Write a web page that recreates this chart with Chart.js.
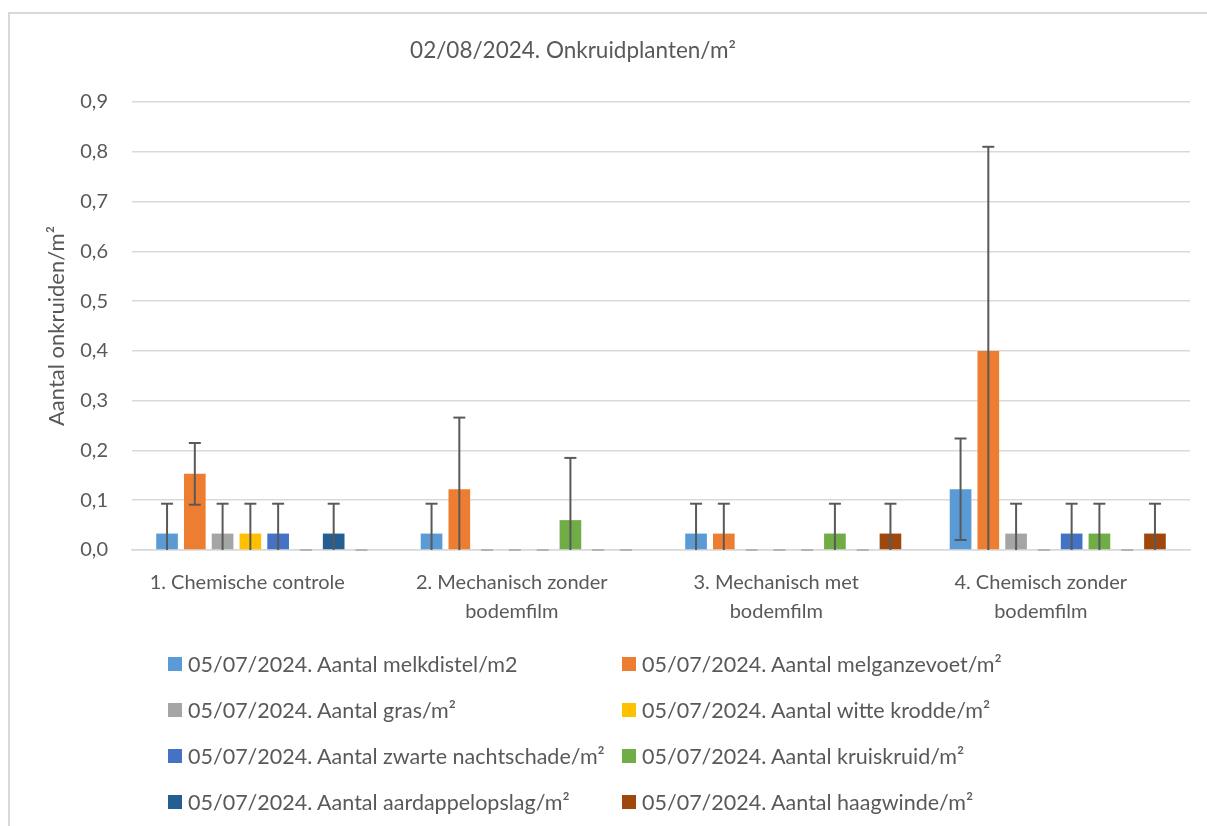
<!DOCTYPE html>
<html>
<head>
<meta charset="utf-8">
<script src="https://cdn.jsdelivr.net/npm/chart.js@4/dist/chart.umd.min.js"></script>
<style>
  html, body { margin:0; padding:0; background:#fff; width:1207px; height:826px; overflow:hidden; }
  #frame { position:absolute; left:8px; top:12px; width:1220px; height:840px; border:2px solid #d9d9d9; box-sizing:border-box; }
  #wrap { position:absolute; left:0; top:0; width:1207px; height:826px; }
  #title { position:absolute; left:273px; width:600px; top:36px; height:28px; line-height:28px; text-align:center;
           font-family: Lato, "Open Sans", sans-serif; font-size:22.5px; color:#595959; white-space:nowrap; }
  #legend { position:absolute; left:0; top:0; width:1207px; height:826px; pointer-events:none;
            font-family: Lato, "Open Sans", sans-serif; font-size:21.5px; color:#595959; }
  .li { position:absolute; white-space:nowrap; display:flex; align-items:center; height:26px; }
  .sw { width:14px; height:14px; margin-right:6px; display:inline-block; }
</style>
</head>
<body>
<div id="frame"></div>
<div id="wrap"><canvas id="c" width="1207" height="826"></canvas></div>
<div id="title"></div>
<div id="legend"></div>
<script>
// ---- data ----
const chartTitle = '02/08/2024. Onkruidplanten/m²';
const yAxisTitle = 'Aantal onkruiden/m²';
const categories = [
  '1. Chemische controle',
  ['2. Mechanisch zonder', 'bodemfilm'],
  ['3. Mechanisch met', 'bodemfilm'],
  ['4. Chemisch zonder', 'bodemfilm']
];
const seriesNames = [
  '05/07/2024. Aantal melkdistel/m2',
  '05/07/2024. Aantal melganzevoet/m²',
  '05/07/2024. Aantal gras/m²',
  '05/07/2024. Aantal witte krodde/m²',
  '05/07/2024. Aantal zwarte nachtschade/m²',
  '05/07/2024. Aantal kruiskruid/m²',
  '05/07/2024. Aantal aardappelopslag/m²',
  '05/07/2024. Aantal haagwinde/m²'
];
const melkdistel        = [0.033, 0.033, 0.033, 0.122];
const melganzevoet      = [0.153, 0.122, 0.033, 0.400];
const gras              = [0.033, 0,     0,     0.033];
const witteKrodde       = [0.033, 0,     0,     0    ];
const zwarteNachtschade = [0.033, 0,     0,     0.033];
const kruiskruid        = [0,     0.060, 0.033, 0.033];
const aardappelopslag   = [0.033, 0,     0,     0    ];
const haagwinde         = [0,     0,     0.033, 0.033];

const melkdistelErr        = [0.060, 0.060, 0.060, 0.102];
const melganzevoetErr      = [0.062, 0.144, 0.060, 0.410];
const grasErr              = [0.060, 0,     0,     0.060];
const witteKroddeErr       = [0.060, 0,     0,     0    ];
const zwarteNachtschadeErr = [0.060, 0,     0,     0.060];
const kruiskruidErr        = [0,     0.125, 0.060, 0.060];
const aardappelopslagErr   = [0.060, 0,     0,     0    ];
const haagwindeErr         = [0,     0,     0.060, 0.060];

const yTicks = [0, 0.1, 0.2, 0.3, 0.4, 0.5, 0.6, 0.7, 0.8, 0.9];

const seriesValues = [melkdistel, melganzevoet, gras, witteKrodde, zwarteNachtschade, kruiskruid, aardappelopslag, haagwinde];
const seriesErrors = [melkdistelErr, melganzevoetErr, grasErr, witteKroddeErr, zwarteNachtschadeErr, kruiskruidErr, aardappelopslagErr, haagwindeErr];
const colors = ['#5B9BD5', '#ED7D31', '#A5A5A5', '#FFC000', '#4472C4', '#70AD47', '#255E91', '#9E480E'];

const FONT = 'Lato, "Open Sans", sans-serif';
const GREY = '#595959';

document.getElementById('title').textContent = chartTitle;

const errorBars = {
  id: 'errorBars',
  afterDatasetsDraw(chart) {
    const ctx = chart.ctx;
    const y = chart.scales.y;
    ctx.save();
    chart.data.datasets.forEach((ds, i) => {
      const meta = chart.getDatasetMeta(i);
      ds.data.forEach((v, j) => {
        const e = seriesErrors[i][j];
        const x = meta.data[j].x;
        const hi = v + e, lo = v - e;
        const yHi = y.getPixelForValue(hi);
        const yLo = y.getPixelForValue(Math.max(0, lo));
        ctx.strokeStyle = GREY;
        ctx.lineWidth = 2;
        ctx.beginPath();
        ctx.moveTo(x, yHi); ctx.lineTo(x, yLo);
        ctx.stroke();
        const cap = 6;
        ctx.beginPath();
        ctx.moveTo(x - cap, yHi); ctx.lineTo(x + cap, yHi);
        if (lo >= 0 && e > 0) { ctx.moveTo(x - cap, yLo); ctx.lineTo(x + cap, yLo); }
        if (e === 0) { ctx.strokeStyle = '#a6a6a6'; ctx.lineWidth = 1.5; }
        ctx.stroke();
      });
    });
    ctx.restore();
  }
};

new Chart(document.getElementById('c'), {
  type: 'bar',
  data: {
    labels: categories,
    datasets: seriesNames.map((n, i) => ({
      label: n,
      data: seriesValues[i],
      backgroundColor: colors[i],
      borderWidth: 0,
      categoryPercentage: 0.84,
      barPercentage: 0.78
    }))
  },
  options: {
    responsive: false,
    animation: false,
    layout: { padding: { left: 0, right: 17, top: 102, bottom: 196 } },
    plugins: {
      legend: { display: false },
      tooltip: { enabled: false },
      title: { display: false }
    },
    scales: {
      x: {
        grid: { display: false, drawTicks: false },
        border: { display: true, color: '#d9d9d9', width: 1.5 },
        ticks: { color: GREY, font: { family: FONT, size: 20, lineHeight: 1.45 }, padding: 18,
                 maxRotation: 0, autoSkip: false, labelOffset: -17 },
        afterFit(s) { s.height = 80; }
      },
      y: {
        min: 0, max: 0.9,
        afterBuildTicks(s) { s.ticks = yTicks.map(v => ({ value: v })); },
        grid: { color: '#d9d9d9', lineWidth: 1.5, drawTicks: false },
        border: { display: false },
        ticks: {
          color: GREY, font: { family: FONT, size: 20 }, padding: 24,
          callback: v => v.toFixed(1).replace('.', ',')
        },
        title: {
          display: true, text: yAxisTitle, color: GREY,
          font: { family: FONT, size: 22, lineHeight: 1.2 }, padding: { top: 44, bottom: 0 }
        },
        afterFit(s) { s.width = 132; }
      }
    }
  },
  plugins: [errorBars]
});

// HTML legend (two columns)
const lg = document.getElementById('legend');
const colX = [168, 622];
const rowY = [664, 710, 756, 802];
seriesNames.forEach((n, i) => {
  const d = document.createElement('div');
  d.className = 'li';
  d.style.left = colX[i % 2] + 'px';
  d.style.top = (rowY[Math.floor(i / 2)] - 13) + 'px';
  d.innerHTML = '<span class="sw" style="background:' + colors[i] + '"></span>';
  d.appendChild(document.createTextNode(n));
  lg.appendChild(d);
});
</script>
</body>
</html>
